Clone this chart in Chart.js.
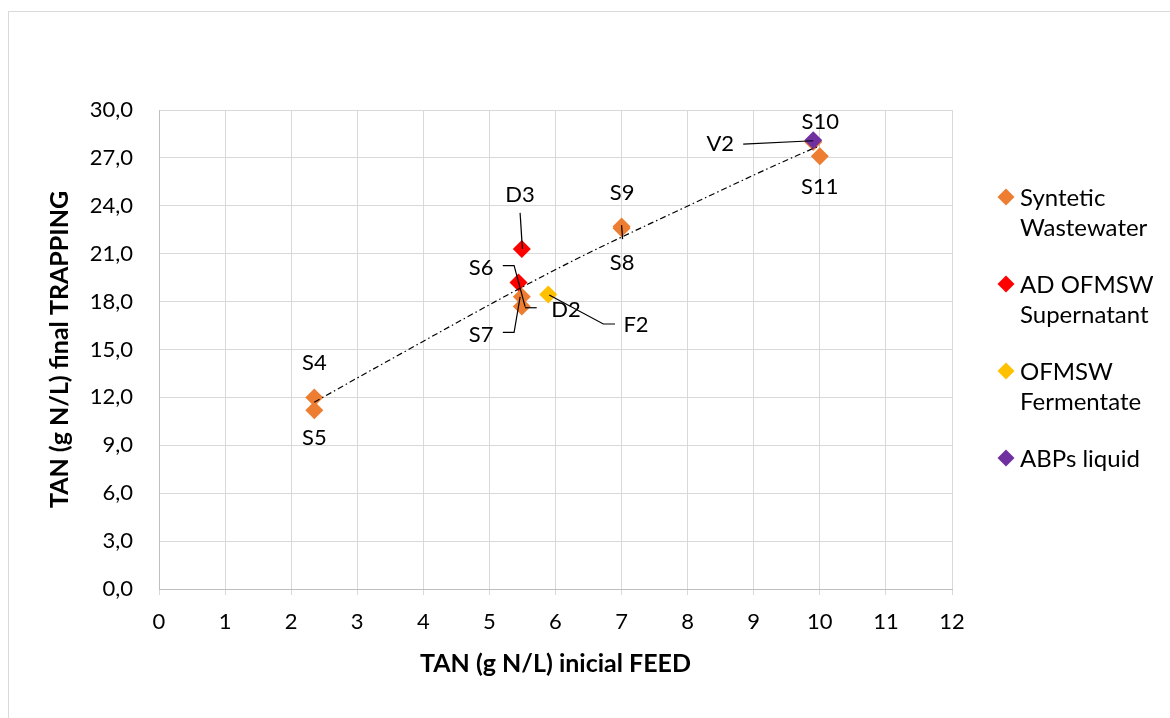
<!DOCTYPE html>
<html>
<head>
<meta charset="utf-8">
<title>TAN trapping vs feed</title>
<script src="https://cdn.jsdelivr.net/npm/chart.js@4.4.0/dist/chart.umd.min.js"></script>
<style>
  html, body { margin: 0; padding: 0; background: #fff; }
  #wrap { position: relative; width: 1170px; height: 718px; overflow: hidden; font-family: Lato, sans-serif; }
  #frame { position: absolute; left: 8px; top: 11px; width: 1200px; height: 800px; border: 1px solid #d9d9d9; }
  #chartBox { position: absolute; left: 0; top: 0; width: 1170px; height: 718px; }
  #legend { position: absolute; left: 996px; top: 182px; }
  .item { position: relative; padding-left: 24px; width: 150px; font-size: 24px; line-height: 30px; color: #000; margin-bottom: 27px; }
  .item .mk { position: absolute; left: 4px; top: 9px; width: 12px; height: 12px; transform: rotate(45deg); }
</style>
</head>
<body>
<div id="wrap">
  <div id="frame"></div>
  <div id="chartBox"><canvas id="tanChart" width="1170" height="718"></canvas></div>
  <div id="legend"></div>
</div>
<script>
// Series names
const seriesNames = ['Syntetic Wastewater', 'AD OFMSW Supernatant', 'OFMSW Fermentate', 'ABPs liquid'];

// Syntetic Wastewater
const swX = [2.35, 2.35, 5.49, 5.49, 7.0, 7.0, 9.9, 10.0];
const swY = [12.0, 11.2, 18.3, 17.7, 22.6, 22.7, 28.0, 27.1];
const swLabels = ['S4', 'S5', 'S7', 'S6', 'S8', 'S9', 'S10', 'S11'];

// AD OFMSW Supernatant
const adX = [5.49, 5.44];
const adY = [21.3, 19.2];
const adLabels = ['D3', 'D2'];

// OFMSW Fermentate
const fermX = [5.89];
const fermY = [18.45];
const fermLabels = ['F2'];

// ABPs liquid
const abpX = [9.9];
const abpY = [28.1];
const abpLabels = ['V2'];

// Trendline
const trendX = [2.35, 3.34, 6.07, 8.06, 9.85, 10.0];
const trendY = [11.7, 14.0, 20.15, 24.1, 27.5, 27.75];

// Axis ticks
const xTicks = [0, 12, 1];
const yTicks = [0, 30, 3];

const colors = ['#ED7D31', '#FF0000', '#FFC000', '#7030A0'];

// label placement relative to the point (pixels) and leader lines
const swPos = [
    { dx: 0, dy: -34 },
    { dx: 0, dy: 28 },
    { dx: -40.7, dy: 38.2, leader: [[-19, 35.5], [-7.7, 35.5], [-1.7, 0]] },
    { dx: -40.7, dy: -38.4, leader: [[-19, -40.7], [-7.7, -40.7], [3.3, 0.3]] },
    { dx: 0.5, dy: 35, leader: [[0, -3], [1, 11]] },
    { dx: 0.5, dy: -33.6 },
    { dx: 7, dy: -20 },
    { dx: 0, dy: 31 }
];
const adPos = [
    { dx: -1.7, dy: -54, leader: [[-1.7, -36], [0.6, 0]] },
    { dx: 47.5, dy: 27.6, leader: [[18.2, 25.3], [6.5, 25.3]] }
];
const fermPos = [
    { dx: 87.8, dy: 30.6, leader: [[66.8, 29.6], [55.1, 29.6], [1, 0.6]] }
];
const abpPos = [
    { dx: -93, dy: 4, leader: [[-70, 3.7], [0, 0.4]] }
];

function toPoints(xs, ys) {
    return xs.map((x, i) => ({ x: x, y: ys[i] }));
}

function scatterSet(name, xs, ys, labels, pos, color, order) {
    return {
        label: name,
        data: toPoints(xs, ys),
        labelText: labels,
        labelPos: pos,
        backgroundColor: color,
        borderColor: color,
        pointStyle: 'rectRot',
        pointRadius: 9,
        pointHoverRadius: 9,
        borderWidth: 0,
        showLine: false,
        order: order
    };
}

// draws the point labels with their leader lines
const pointLabels = {
    id: 'pointLabels',
    afterDatasetsDraw(chart) {
        const c = chart.ctx;
        chart.data.datasets.forEach((ds, di) => {
            if (!ds.labelText) return;
            const meta = chart.getDatasetMeta(di);
            meta.data.forEach((pt, i) => {
                const o = ds.labelPos[i];
                c.save();
                if (o.leader) {
                    c.strokeStyle = '#000';
                    c.lineWidth = 1.2;
                    c.beginPath();
                    o.leader.forEach((p, k) => {
                        if (k === 0) c.moveTo(pt.x + p[0], pt.y + p[1]);
                        else c.lineTo(pt.x + p[0], pt.y + p[1]);
                    });
                    c.stroke();
                }
                c.fillStyle = '#000';
                c.font = '22px Lato';
                c.textAlign = 'center';
                c.textBaseline = 'middle';
                c.fillText(ds.labelText[i], pt.x + o.dx, pt.y + o.dy);
                c.restore();
            });
        });
    }
};

const ctx = document.getElementById('tanChart').getContext('2d');
const tanChart = new Chart(ctx, {
    type: 'scatter',
    data: {
        datasets: [
            {
                label: 'Trend',
                data: toPoints(trendX, trendY),
                showLine: true,
                borderColor: '#000',
                borderWidth: 1.2,
                borderDash: [6, 3, 1.5, 3],
                cubicInterpolationMode: 'monotone',
                pointRadius: 0,
                pointHoverRadius: 0,
                order: 0
            },
            scatterSet(seriesNames[0], swX, swY, swLabels, swPos, colors[0], 4),
            scatterSet(seriesNames[1], adX, adY, adLabels, adPos, colors[1], 3),
            scatterSet(seriesNames[2], fermX, fermY, fermLabels, fermPos, colors[2], 2),
            scatterSet(seriesNames[3], abpX, abpY, abpLabels, abpPos, colors[3], 1)
        ]
    },
    options: {
        responsive: false,
        animation: false,
        devicePixelRatio: 1,
        layout: {
            padding: { left: 0, right: 218, top: 110, bottom: 0 }
        },
        plugins: {
            legend: { display: false },
            tooltip: { enabled: false }
        },
        scales: {
            x: {
                type: 'linear',
                min: xTicks[0],
                max: xTicks[1],
                afterFit: s => { s.height = 129; },
                ticks: {
                    stepSize: xTicks[2],
                    color: '#000',
                    padding: 14,
                    font: { family: 'Lato', size: 22 }
                },
                grid: { color: '#d9d9d9', tickLength: 6 },
                border: { color: '#bfbfbf' },
                title: {
                    display: true,
                    text: 'TAN (g N/L) inicial FEED',
                    color: '#000',
                    font: { family: 'Lato', size: 25, weight: 'bold' },
                    padding: { top: 0, bottom: 39 }
                }
            },
            y: {
                min: yTicks[0],
                max: yTicks[1],
                afterFit: s => { s.width = 159; },
                ticks: {
                    stepSize: yTicks[2],
                    color: '#000',
                    padding: 26,
                    font: { family: 'Lato', size: 22 },
                    callback: v => v.toFixed(1).replace('.', ',')
                },
                grid: { color: '#d9d9d9', drawTicks: false },
                border: { color: '#bfbfbf' },
                title: {
                    display: true,
                    text: 'TAN (g N/L) final TRAPPING',
                    color: '#000',
                    font: { family: 'Lato', size: 25, weight: 'bold' },
                    padding: { top: 45, bottom: 0 }
                }
            }
        }
    },
    plugins: [pointLabels]
});

// Legend
const legendBox = document.getElementById('legend');
seriesNames.forEach((name, i) => {
    const item = document.createElement('div');
    item.className = 'item';
    item.innerHTML = `<span class="mk" style="background:${colors[i]}"></span>${name}`;
    legendBox.appendChild(item);
});
</script>
</body>
</html>
